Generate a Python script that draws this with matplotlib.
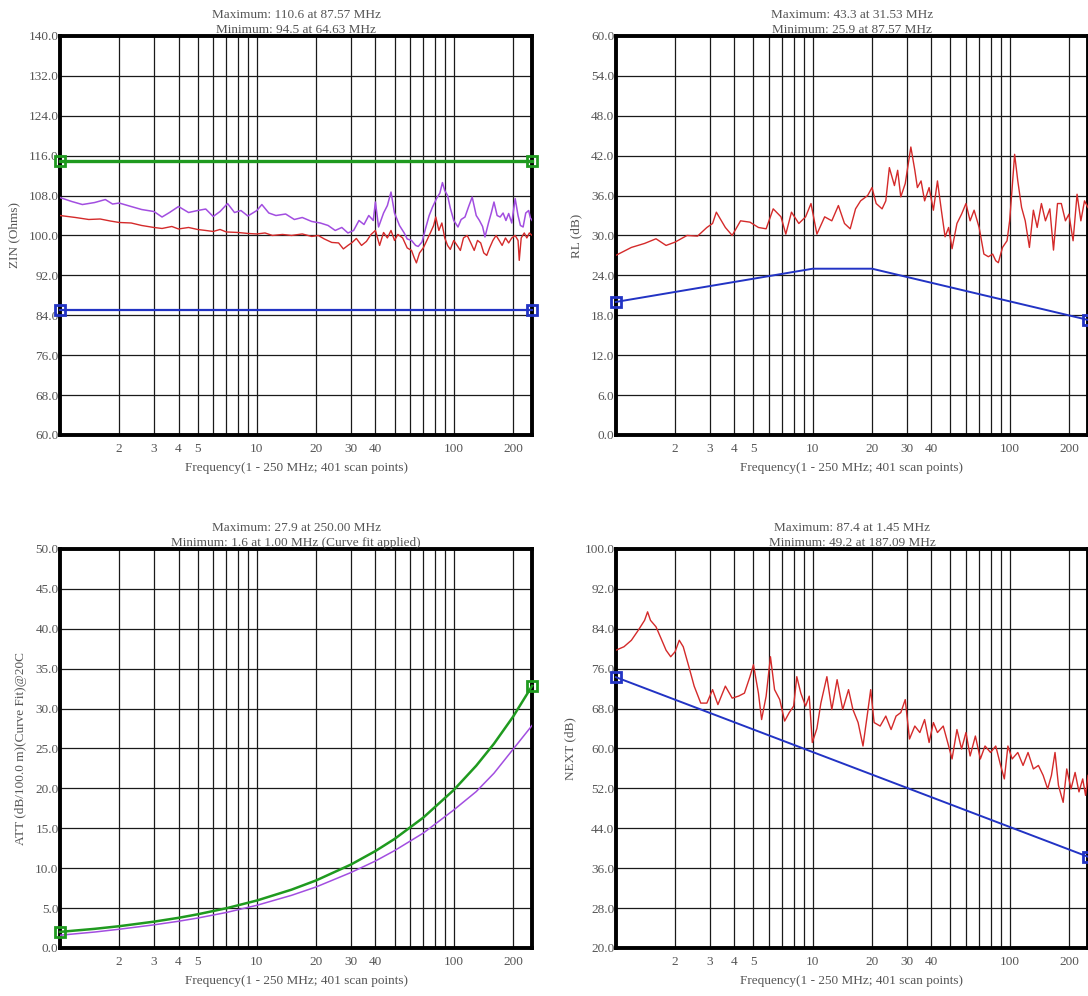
import matplotlib
matplotlib.use("Agg")
import matplotlib.pyplot as plt
from matplotlib.ticker import FixedLocator, NullFormatter, FuncFormatter

plt.rcParams['font.family'] = ['Liberation Serif', 'DejaVu Serif']

# ---------------- data ----------------
# x tick labels and grid lines (MHz)
tick_labels = [2, 3, 4, 5, 10, 20, 30, 40, 100, 200]
grid_lines = [2, 3, 4, 5, 6, 7, 8, 9, 10, 20, 30, 40, 50, 60, 70, 80, 90, 100, 200]

# ZIN panel
zin_limit_freq = [1, 250]
zin_upper = [115.0, 115.0]
zin_lower = [85.0, 85.0]
zin_purple_freq = [1, 1.15, 1.3, 1.5, 1.7, 1.85, 2, 2.3, 2.6, 3, 3.3, 3.6, 4, 4.5, 5, 5.5, 6, 6.5,
                   7.1, 7.7, 8.3, 9, 10, 10.6, 11.5, 12.5, 14, 15.5, 17, 19, 21, 23, 25, 27, 29, 31,
                   33, 35, 37, 39, 40, 41.5, 44, 46, 48, 50, 53, 56, 58, 61, 64, 66, 69, 72, 75, 78,
                   82, 85, 87.6, 90, 93, 96, 100, 105, 109, 114, 119, 124, 130, 135, 140, 144, 150,
                   155, 160, 166, 172, 178, 184, 190, 197, 205, 212, 218, 225, 232, 240, 245, 250]
zin_purple = [107.6, 106.8, 106.2, 106.6, 107.2, 106.3, 106.5, 105.8, 105.2, 104.8, 103.7, 104.6,
              105.8, 104.6, 105.0, 105.3, 103.8, 104.8, 106.4, 104.6, 105.0, 103.9, 105.0, 106.2,
              104.5, 104.0, 104.3, 103.2, 103.6, 102.8, 102.5, 102.0, 101.0, 101.6, 100.5, 101.0,
              103.0, 102.2, 104.0, 103.0, 106.7, 101.7, 104.5, 106.0, 108.7, 104.5, 102.0, 100.5,
              99.3, 99.0, 98.0, 97.8, 98.7, 101.5, 104.0, 105.7, 107.5, 108.5, 110.6, 109.0, 108.0,
              105.5, 103.0, 101.7, 103.2, 103.7, 105.8, 107.7, 104.0, 103.0, 101.8, 99.7, 102.5,
              104.5, 106.7, 104.0, 103.7, 104.5, 103.0, 104.4, 102.5, 107.4, 104.0, 102.0, 101.7,
              104.5, 105.0, 103.5, 103.0]
zin_red_freq = [1, 1.2, 1.4, 1.6, 1.8, 2, 2.3, 2.6, 3, 3.3, 3.7, 4, 4.5, 5, 5.5, 6, 6.5, 7, 8, 9,
                10, 11, 12, 13.5, 15, 17, 19, 20.5, 22, 24, 26, 27.5, 29, 30.5, 32, 34, 36, 38, 40,
                42, 44, 46, 48, 50, 52, 55, 58, 61, 63, 64.6, 67, 70, 73, 76, 79, 81, 84, 87, 90,
                93, 96, 100, 104, 108, 112, 117, 122, 127, 132, 137, 142, 147, 152, 158, 164, 170,
                176, 183, 190, 197, 205, 212, 215, 220, 228, 235, 242, 250]
zin_red = [104.0, 103.6, 103.2, 103.3, 102.9, 102.6, 102.5, 102.0, 101.6, 101.4, 101.8, 101.3,
           101.6, 101.2, 101.0, 100.8, 101.2, 100.7, 100.6, 100.4, 100.3, 100.5, 100.0, 100.2,
           100.0, 100.3, 99.8, 100.0, 99.3, 98.6, 98.5, 97.3, 98.0, 98.6, 99.4, 98.0, 98.8, 100.2,
           101.0, 98.0, 100.6, 99.5, 101.0, 99.0, 100.2, 99.5, 97.5, 97.0, 95.5, 94.5, 96.5, 97.5,
           99.0, 100.5, 102.0, 103.7, 101.0, 102.5, 99.5, 98.0, 97.2, 99.0, 98.0, 97.0, 99.5,
           100.0, 98.5, 97.0, 99.0, 98.5, 96.5, 96.0, 97.5, 99.0, 100.0, 99.0, 98.0, 99.5, 98.5,
           99.5, 100.0, 99.0, 95.0, 99.5, 100.5, 99.5, 100.5, 100.0]

# RL panel
rl_limit_freq = [1, 10, 20, 250]
rl_limit = [20.0, 25.0, 25.0, 17.3]
rl_freq = [1, 1.2, 1.4, 1.6, 1.8, 2, 2.3, 2.6, 2.9, 3.1, 3.24, 3.6, 3.9, 4.3, 4.8, 5.3, 5.8, 6.3,
           6.9, 7.3, 7.8, 8.5, 9.2, 9.8, 10.5, 11.5, 12.5, 13.5, 14.5, 15.5, 16.5, 17.5, 19, 20,
           21, 22.5, 23.5, 24.5, 26, 27, 28, 29.5, 31.5, 33, 34, 35.5, 37, 39, 41, 43, 45, 47, 49,
           51, 54, 57, 60, 63, 66, 70, 74, 78, 82, 85, 87.6, 92, 97, 100, 103, 106, 110, 115, 120,
           126, 132, 138, 145, 152, 160, 167, 175, 183, 192, 200, 210, 220, 230, 240, 250]
rl_values = [27.0, 28.2, 28.8, 29.5, 28.5, 29.0, 30.0, 29.9, 31.2, 31.8, 33.5, 31.2, 30.0, 32.2,
             32.0, 31.2, 31.0, 34.0, 32.8, 30.2, 33.5, 31.8, 32.8, 34.8, 30.2, 32.8, 32.2, 34.5,
             31.8, 31.0, 34.0, 35.2, 36.0, 37.2, 34.8, 34.0, 35.2, 40.2, 37.5, 39.8, 35.8, 37.8,
             43.3, 39.8, 37.2, 38.2, 35.2, 37.2, 33.8, 38.2, 33.8, 29.8, 31.2, 28.0, 31.8, 33.2,
             34.8, 32.2, 33.8, 31.2, 27.2, 26.8, 27.2, 26.2, 25.9, 28.2, 29.2, 32.2, 37.2, 42.2,
             38.2, 34.2, 32.2, 28.2, 33.8, 31.2, 34.8, 32.2, 34.0, 27.8, 34.8, 34.8, 32.2, 33.2,
             29.2, 36.2, 32.2, 35.2, 34.2]

# ATT panel
att_freq = [1, 1.5, 2, 3, 4, 5, 7, 10, 15, 20, 30, 40, 50, 70, 100, 130, 160, 200, 250]
att_limit = [2.02, 2.40, 2.73, 3.30, 3.78, 4.22, 4.98, 5.95, 7.31, 8.47, 10.45, 12.15, 13.66,
             16.34, 19.80, 22.84, 25.60, 28.98, 32.85]
att_measured = [1.6, 2.0, 2.35, 2.9, 3.35, 3.75, 4.45, 5.35, 6.6, 7.65, 9.45, 10.9, 12.2, 14.4,
                17.3, 19.6, 21.9, 24.9, 27.9]

# NEXT panel
next_limit_freq = [1, 250]
next_limit = [74.3, 38.3]
next_freq = [1, 1.1, 1.2, 1.3, 1.4, 1.45, 1.5, 1.6, 1.7, 1.8, 1.9, 2.0, 2.1, 2.2, 2.35, 2.5, 2.7,
             2.9, 3.1, 3.3, 3.6, 3.9, 4.2, 4.5, 4.8, 5.0, 5.3, 5.5, 5.8, 6.1, 6.4, 6.8, 7.2, 7.6,
             8.0, 8.3, 8.7, 9.2, 9.6, 9.95, 10.5, 11, 11.8, 12.5, 13.3, 14.2, 15.2, 16, 17, 18, 19,
             19.7, 20.5, 22, 23.5, 25, 26.5, 28, 29.5, 31, 33, 35, 37, 39, 41, 43, 46, 49, 51, 54,
             57, 60, 63, 67, 71, 75, 80, 85, 90, 94, 98, 103, 110, 117, 124, 132, 140, 148, 156,
             163, 170, 177, 187, 195, 205, 215, 225, 235, 243, 250]
next_values = [79.7, 80.4, 81.7, 83.7, 85.7, 87.4, 85.7, 84.4, 82.0, 79.7, 78.4, 79.4, 81.7, 80.4,
               76.4, 72.5, 69.1, 69.1, 71.8, 68.8, 72.5, 70.1, 70.5, 71.1, 74.4, 76.8, 71.1, 65.8,
               70.5, 78.4, 71.8, 69.8, 65.5, 67.2, 68.5, 74.4, 71.1, 68.5, 70.5, 61.2, 64.0, 69.1,
               74.4, 67.8, 73.8, 67.8, 71.8, 67.8, 65.2, 60.5, 67.2, 71.8, 65.2, 64.5, 66.5, 63.8,
               66.5, 67.2, 69.8, 61.9, 64.5, 63.2, 65.8, 61.2, 65.2, 63.2, 64.5, 60.5, 57.9, 63.8,
               59.9, 63.2, 58.5, 62.5, 57.9, 60.5, 59.2, 60.5, 56.6, 53.9, 60.5, 57.9, 59.2, 56.6,
               59.2, 55.9, 56.6, 54.6, 51.9, 54.6, 59.2, 52.6, 49.2, 55.9, 51.9, 55.2, 51.3, 53.9,
               50.6, 54.6]

# colours
red = '#d42a2a'
purple = '#a24ee0'
green = '#1f9a1f'
blue = '#2233c4'
text_gray = '#555555'

xlabel = 'Frequency(1 - 250 MHz; 401 scan points)'


# Draw the common frame, grid and tick labels of one panel
def styleAxes(ax, ymin, ymax, ystep, ylabel, title):
    ax.set_xscale('log')
    ax.set_xlim(1, 250)
    ax.set_ylim(ymin, ymax)
    ax.xaxis.set_major_locator(FixedLocator(tick_labels))
    ax.xaxis.set_minor_locator(FixedLocator(grid_lines))
    ax.xaxis.set_major_formatter(FuncFormatter(lambda v, p: '%d' % v))
    ax.xaxis.set_minor_formatter(NullFormatter())
    yticks = []
    v = ymin
    while v <= ymax + 1e-9:
        yticks.append(v)
        v += ystep
    ax.set_yticks(yticks)
    ax.yaxis.set_major_formatter(FuncFormatter(lambda v, p: '%.1f' % v))
    ax.grid(True, which='both', axis='x', color='#1a1a1a', linewidth=0.9)
    ax.grid(True, which='major', axis='y', color='#1a1a1a', linewidth=0.9)
    ax.tick_params(which='both', length=0, labelsize=9.5, labelcolor=text_gray)
    ax.tick_params(axis='x', pad=6)
    ax.tick_params(axis='y', pad=1)
    for s in ax.spines.values():
        s.set_linewidth(2.8)
        s.set_color('black')
    ax.set_axisbelow(True)
    ax.set_xlabel(xlabel, fontsize=9.5, color=text_gray, labelpad=5)
    ax.set_ylabel(ylabel, fontsize=9.5, color=text_gray, labelpad=6)
    # two line max/min summary, second line sitting on the top border
    ax.text(0.5, 1.0, title, transform=ax.transAxes, ha='center', va='bottom',
            fontsize=9.5, color=text_gray, linespacing=1.3, zorder=10)


def limitLine(ax, freq, values, color, lw):
    ax.plot(freq, values, color=color, linewidth=lw, marker='s', markersize=7,
            markerfacecolor='none', markeredgecolor=color, markeredgewidth=2,
            markevery=[0, len(freq) - 1], clip_on=False, zorder=5)


fig = plt.figure(figsize=(10.88, 9.96), dpi=100)

left_x = 0.0551
right_x = 0.566
width = 0.434
height = 0.4006
top_y = 0.5633
bottom_y = 0.0482

# ZIN
ax1 = fig.add_axes([left_x, top_y, width, height])
styleAxes(ax1, 60, 140, 8, 'ZIN (Ohms)',
          'Maximum: 110.6 at 87.57 MHz\nMinimum: 94.5 at 64.63 MHz')
limitLine(ax1, zin_limit_freq, zin_upper, green, 2.4)
limitLine(ax1, zin_limit_freq, zin_lower, blue, 1.6)
ax1.plot(zin_red_freq, zin_red, color=red, linewidth=1.0, zorder=3)
ax1.plot(zin_purple_freq, zin_purple, color=purple, linewidth=1.1, zorder=4)

# RL
ax2 = fig.add_axes([right_x, top_y, width, height])
styleAxes(ax2, 0, 60, 6, 'RL (dB)',
          'Maximum: 43.3 at 31.53 MHz\nMinimum: 25.9 at 87.57 MHz')
limitLine(ax2, rl_limit_freq, rl_limit, blue, 1.4)
ax2.plot(rl_freq, rl_values, color=red, linewidth=1.0, zorder=3)

# ATT
ax3 = fig.add_axes([left_x, bottom_y, width, height])
styleAxes(ax3, 0, 50, 5, 'ATT (dB/100.0 m)(Curve Fit)@20C',
          'Maximum: 27.9 at 250.00 MHz\nMinimum: 1.6 at 1.00 MHz (Curve fit applied)')
ax3.plot(att_freq, att_measured, color=purple, linewidth=1.1, zorder=3)
limitLine(ax3, att_freq, att_limit, green, 1.8)

# NEXT
ax4 = fig.add_axes([right_x, bottom_y, width, height])
styleAxes(ax4, 20, 100, 8, 'NEXT (dB)',
          'Maximum: 87.4 at 1.45 MHz\nMinimum: 49.2 at 187.09 MHz')
limitLine(ax4, next_limit_freq, next_limit, blue, 1.4)
ax4.plot(next_freq, next_values, color=red, linewidth=1.0, zorder=3)

plt.savefig('out.png', dpi=100)
